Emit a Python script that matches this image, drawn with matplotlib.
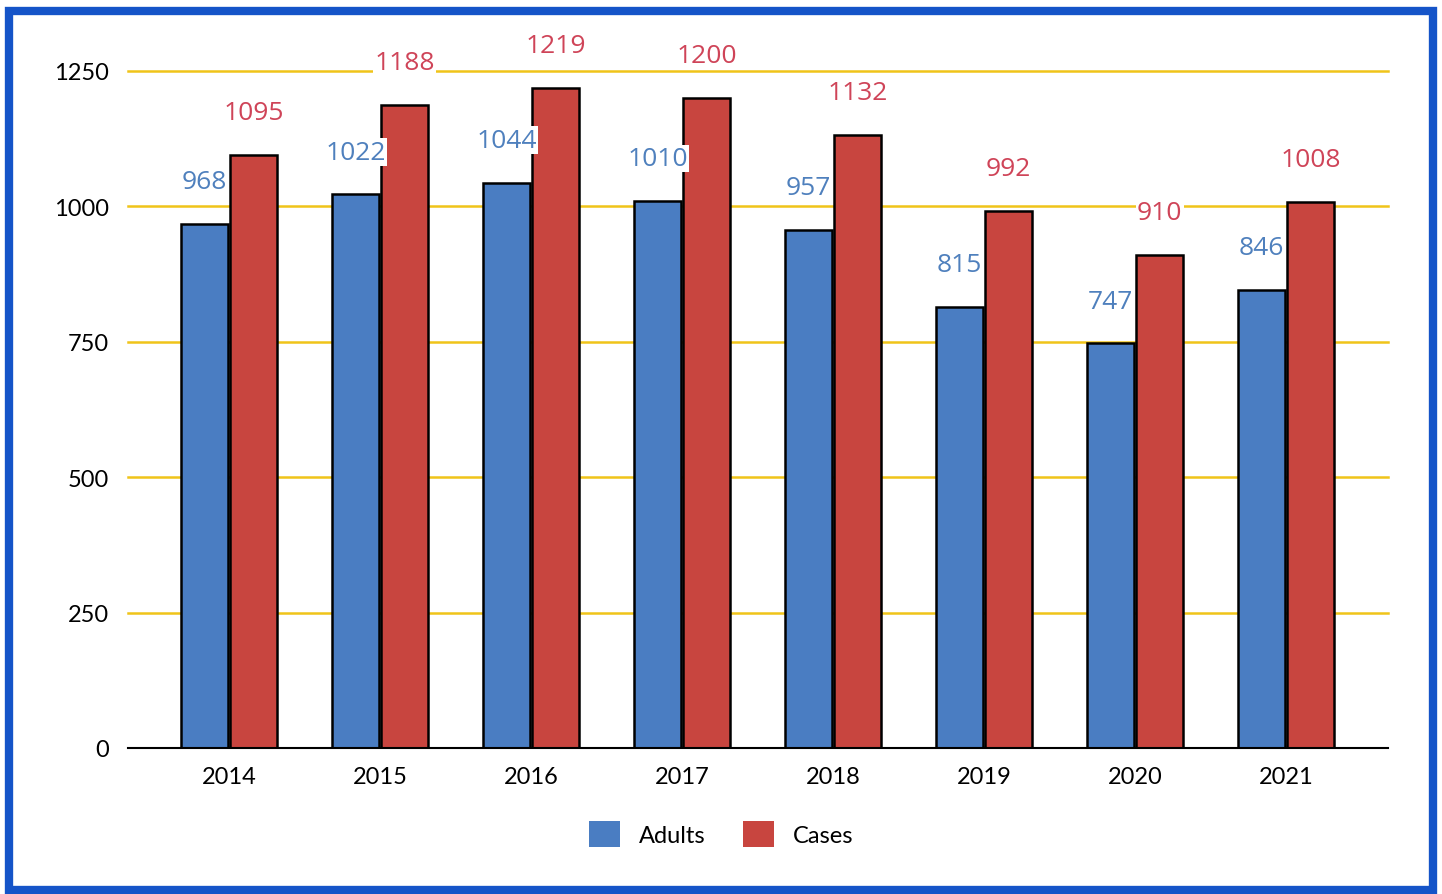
import matplotlib
matplotlib.use("Agg")
import matplotlib.pyplot as plt
from matplotlib.patches import Patch, Rectangle
import numpy as np

years = ["2014", "2015", "2016", "2017", "2018", "2019", "2020", "2021"]
adults = [968, 1022, 1044, 1010, 957, 815, 747, 846]
cases = [1095, 1188, 1219, 1200, 1132, 992, 910, 1008]
yticks = [0, 250, 500, 750, 1000, 1250]

BLUE = "#4a7dc2"
RED = "#c8453f"
BLUE_TXT = "#4f80bd"
RED_TXT = "#cf4458"
GRID = "#f0c419"

fig = plt.figure(figsize=(14.42, 8.95), dpi=100)
ax = fig.add_axes([128/1442, 146/895, 1260/1442, 677/895])

x = np.arange(len(years))
w = 0.315
off = 0.163

for i in range(len(years)):
    ax.bar(x[i] - off, adults[i], width=w, color=BLUE, edgecolor="black", linewidth=1.8, zorder=3)
    ax.bar(x[i] + off, cases[i], width=w, color=RED, edgecolor="black", linewidth=1.8, zorder=3)
    ax.annotate(str(adults[i]), (x[i] - off, adults[i]), xytext=(0, 30.5), textcoords="offset points",
                ha="center", va="center", fontsize=19, color=BLUE_TXT, family="Open Sans",
                bbox=dict(boxstyle="square,pad=0.05", fc="white", ec="none"), zorder=4, annotation_clip=False)
    ax.annotate(str(cases[i]), (x[i] + off, cases[i]), xytext=(0, 30.5), textcoords="offset points",
                ha="center", va="center", fontsize=19, color=RED_TXT, family="Open Sans",
                bbox=dict(boxstyle="square,pad=0.05", fc="white", ec="none"), zorder=4, annotation_clip=False)

ax.set_xlim(-0.669, 7.675)
ax.set_ylim(0, 1250)
ax.set_yticks(yticks)
ax.set_yticklabels([str(t) for t in yticks], family="Lato", fontsize=17)
ax.set_xticks(x)
ax.set_xticklabels(years, family="Lato", fontsize=17)
ax.tick_params(axis="y", length=0, pad=14)
ax.tick_params(axis="x", length=0, pad=13)
for s in ["top", "right", "left"]:
    ax.spines[s].set_visible(False)
ax.spines["bottom"].set_linewidth(1.5)
ax.spines["bottom"].set_zorder(5)
for t in yticks[1:]:
    ax.axhline(t, color=GRID, linewidth=1.8, zorder=1, clip_on=False)

handles = [Patch(facecolor=BLUE, edgecolor="none", label="Adults"),
           Patch(facecolor=RED, edgecolor="none", label="Cases")]
leg = fig.legend(handles=handles, loc="center", bbox_to_anchor=(0.5, 1 - 835/895), ncol=2,
                 frameon=False, prop={"family": "Lato", "size": 17},
                 handlelength=1.3, handleheight=1.3, handletextpad=0.8, columnspacing=1.6)

border = Rectangle((9/1442, 4/895), 1424/1442, 879/895, transform=fig.transFigure,
                   fill=False, edgecolor="#1554c8", linewidth=6, zorder=10)
fig.patches.append(border)

fig.savefig("out.png", dpi=100, facecolor="white")
